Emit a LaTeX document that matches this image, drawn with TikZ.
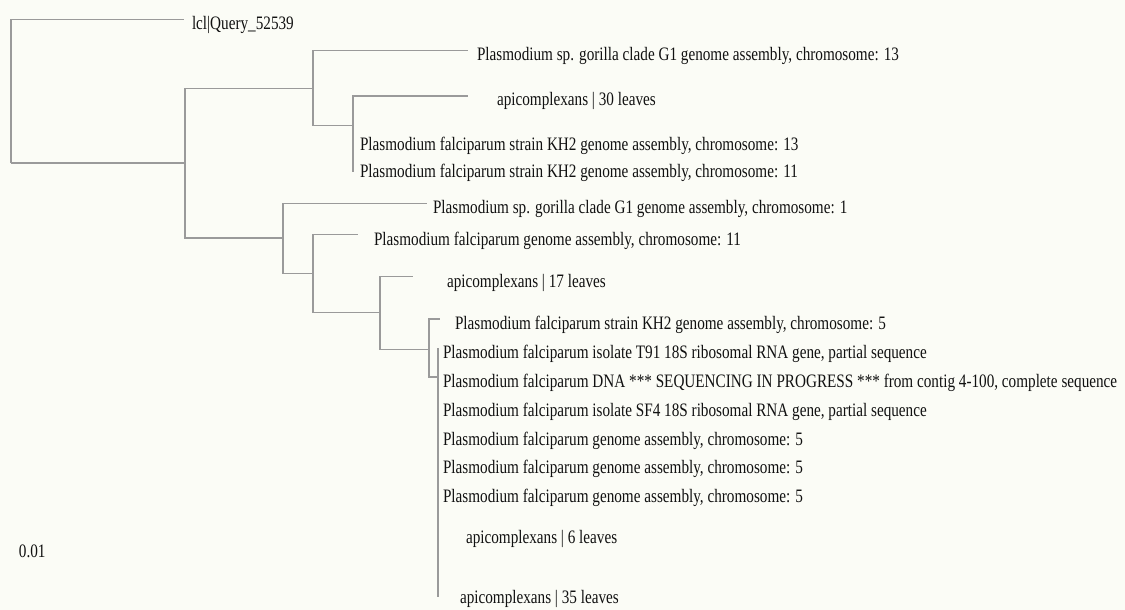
\documentclass[tikz,border=0pt]{standalone}
\usepackage{fontspec}
\setmainfont{Liberation Serif}[FakeStretch=0.8]
\definecolor{bg}{HTML}{FBFCF6}
\definecolor{branch}{HTML}{9A9A9A}
\definecolor{txt}{HTML}{111111}
\begin{document}
\begin{tikzpicture}[x=1pt,y=-1pt,
  br/.style={draw=branch,line width=1.4pt},
  lab/.style={anchor=base west,inner sep=0pt,outer sep=0pt,text=txt,font=\fontsize{19}{22}\selectfont}]
\fill[bg] (0,0) rectangle (1125,610);
\useasboundingbox (0,0) rectangle (1125,610);
% internal nodes
\coordinate (R) at (11,163);
\coordinate (A) at (185,163);
\coordinate (B) at (313,88.7);
\coordinate (C) at (353,125.7);
\coordinate (D) at (283,238);
\coordinate (E) at (313,273.3);
\coordinate (F) at (380,312.7);
\coordinate (G) at (429,349.3);
\coordinate (H) at (438,377);
% tips
\coordinate (tq) at (184,19.5);
\coordinate (tg13) at (468,50.7);
\coordinate (ta30) at (468,96);
\coordinate (tk13) at (353,143);
\coordinate (tk11) at (353,172);
\coordinate (tg1) at (426.7,203.3);
\coordinate (tf11) at (358,234.3);
\coordinate (ta17) at (412.7,276.7);
\coordinate (tk5) at (440,319);
\coordinate (htop) at (438,348);
\coordinate (hbot) at (438,597);
% branches
\draw[br] (R) |- (tq);
\draw[br] (R) -- (A);
\draw[br] (A) |- (B);
\draw[br] (A) |- (D);
\draw[br] (B) |- (tg13);
\draw[br] (B) |- (C);
\draw[br] (C) |- (ta30);
\draw[br] (C) -- (tk11);
\draw[br] (D) |- (tg1);
\draw[br] (D) |- (E);
\draw[br] (E) |- (tf11);
\draw[br] (E) |- (F);
\draw[br] (F) |- (ta17);
\draw[br] (F) |- (G);
\draw[br] (G) |- (tk5);
\draw[br] (G) |- (H);
\draw[br] (htop) -- (hbot);
% labels
\node[lab] (lq) at (192,29.5) {lcl|Query\_52539};
\node[lab] (lg13) at (477,60.5) {Plasmodium sp. gorilla clade G1 genome assembly, chromosome: 13};
\node[lab] (la30) at (497,106) {apicomplexans | 30 leaves};
\node[lab] (lk13) at (360,150) {Plasmodium falciparum strain KH2 genome assembly, chromosome: 13};
\node[lab] (lk11) at (360,177.5) {Plasmodium falciparum strain KH2 genome assembly, chromosome: 11};
\node[lab] (lg1) at (433,213.5) {Plasmodium sp. gorilla clade G1 genome assembly, chromosome: 1};
\node[lab] (lf11) at (374,245) {Plasmodium falciparum genome assembly, chromosome: 11};
\node[lab] (la17) at (447,287) {apicomplexans | 17 leaves};
\node[lab] (lk5) at (455,329.5) {Plasmodium falciparum strain KH2 genome assembly, chromosome: 5};
\node[lab] (lt91) at (443,358.5) {Plasmodium falciparum isolate T91 18S ribosomal RNA gene, partial sequence};
\node[lab] (ldna) at (443,387.5) {Plasmodium falciparum DNA *** SEQUENCING IN PROGRESS *** from contig 4-100, complete sequence};
\node[lab] (lsf4) at (443,416.5) {Plasmodium falciparum isolate SF4 18S ribosomal RNA gene, partial sequence};
\node[lab] (lp5a) at (443,445) {Plasmodium falciparum genome assembly, chromosome: 5};
\node[lab] (lp5b) at (443,473.5) {Plasmodium falciparum genome assembly, chromosome: 5};
\node[lab] (lp5c) at (443,502) {Plasmodium falciparum genome assembly, chromosome: 5};
\node[lab] (la6) at (466,543) {apicomplexans | 6 leaves};
\node[lab] (la35) at (460,603) {apicomplexans | 35 leaves};
\node[lab] (scale) at (19,557) {0.01};
\end{tikzpicture}
\end{document}
